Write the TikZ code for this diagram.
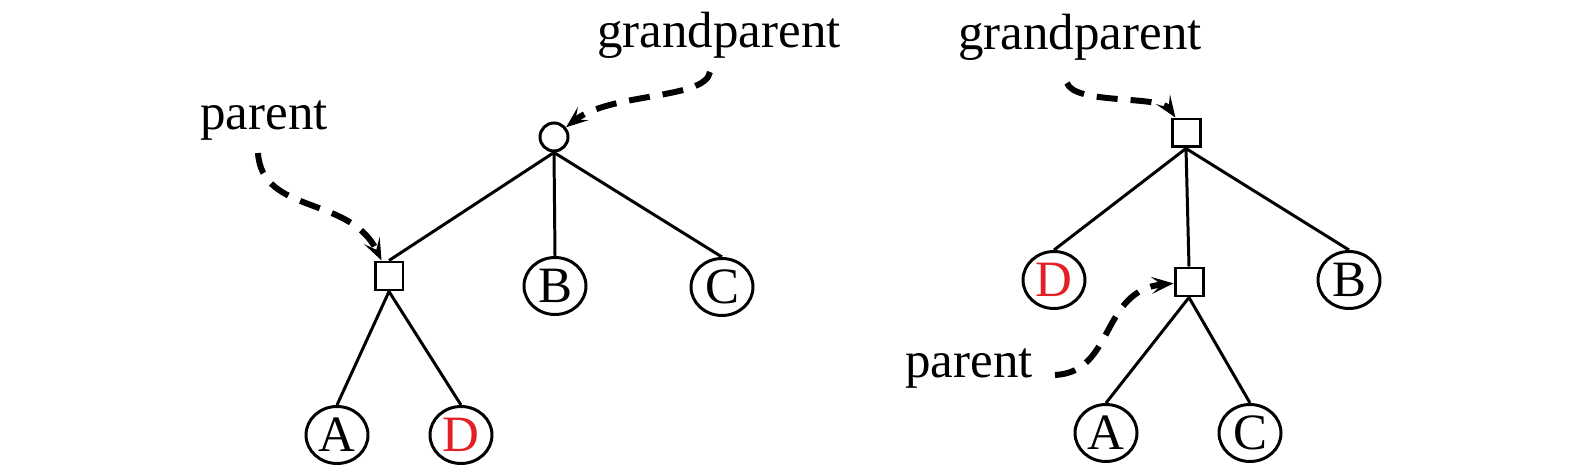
\documentclass[tikz,border=0pt]{standalone}
\usepackage{fontspec}
\setmainfont{Liberation Serif}
\usepackage{tikz}
\usetikzlibrary{shapes.geometric,arrows.meta}
\definecolor{dred}{RGB}{228,30,37}

\begin{document}
\begin{tikzpicture}[x=0.02cm,y=-0.02cm]
        \tikzstyle{every node} = [font=\fontsize{29}{35}\selectfont, inner sep=0pt]
        \tikzstyle{leaf} = [ellipse, draw, line width=1.7pt, minimum width=1.24cm, minimum height=1.14cm]
        \tikzstyle{bnode} = [rectangle, draw, line width=1.7pt, minimum size=0.56cm]
        \tikzstyle{rnode} = [circle, draw, line width=1.7pt, minimum size=0.56cm]
        \tikzstyle{lbl} = [anchor=base]
        \tikzstyle{ptr} = [line width=3.4pt, dash pattern=on 0.42cm off 0.26cm,
                -{Stealth[length=0.44cm, width=0.34cm, inset=0.2cm]}]
        \useasboundingbox (0,0) rectangle (1575,472);
        % left tree
        \node[rnode] (gp1) at (554,137) {};
        \node[bnode] (p1) at (389,276) {};
        \node[leaf] (B1) at (555,286) {B};
        \node[leaf] (C1) at (722,287) {C};
        \node[leaf] (A1) at (337,435) {A};
        \node[leaf] (D1) at (461,435) {\textcolor{dred}{D}};
        \node[lbl] (lp1) at (264,130) {parent};
        \node[lbl] (lg1) at (719,48) {grandparent};
        % right tree
        \node[bnode] (gp2) at (1186,133) {};
        \node[leaf] (D2) at (1054,280) {\textcolor{dred}{D}};
        \node[bnode] (p2) at (1189,282) {};
        \node[leaf] (B2) at (1349,280) {B};
        \node[leaf] (A2) at (1106,433) {A};
        \node[leaf] (C2) at (1250,433) {C};
        \node[lbl] (lp2) at (969,378) {parent};
        \node[lbl] (lg2) at (1080,50) {grandparent};
        \foreach \from/\to in {gp1/p1, gp1/B1, gp1/C1, p1/A1, p1/D1,
                gp2/D2, gp2/p2, gp2/B2, p2/A2, p2/C2}
            \draw[line width=1.7pt] (\from.south) -- (\to.north);
        % dashed pointers
        \coordinate (lp1t) at (258,153);
        \coordinate (lg1t) at (710,72);
        \coordinate (lg2t) at (1067,83);
        \coordinate (lp2t) at (1055,375);
        \draw[ptr] (lp1t) .. controls (262,215) and (350,195) .. (p1);
        \draw[ptr] (lg1t) .. controls (705,100) and (610,92) .. (gp1);
        \draw[ptr] (lg2t) .. controls (1075,105) and (1160,95) .. (gp2);
        \draw[ptr] (lp2t) .. controls (1115,372) and (1100,290) .. (p2);
    \end{tikzpicture}
\end{document}
